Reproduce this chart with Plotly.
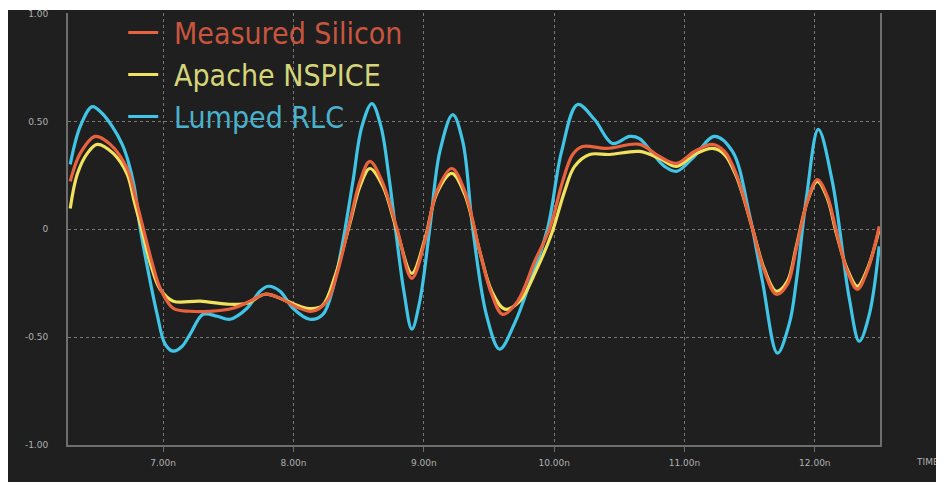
import plotly.graph_objects as go

# ---------------- data ----------------
t_lumped = [6.287, 6.364, 6.456, 6.533, 6.609, 6.686, 6.732, 6.778, 6.824, 6.885, 6.954, 7.015, 7.077, 7.146,
            7.207, 7.307, 7.414, 7.513, 7.644, 7.743, 7.805, 7.897, 7.996, 8.126, 8.226, 8.303, 8.379, 8.456,
            8.525, 8.602, 8.671, 8.732, 8.785, 8.847, 8.908, 8.969, 9.046, 9.123, 9.222, 9.299, 9.375, 9.483,
            9.582, 9.697, 9.812, 9.950, 10.057, 10.180, 10.310, 10.448, 10.579, 10.655, 10.755, 10.847, 10.939,
            11.061, 11.230, 11.368, 11.498, 11.598, 11.713, 11.805, 11.858, 11.935, 12.027, 12.134, 12.264,
            12.341, 12.418, 12.494]
v_lumped = [0.301, 0.477, 0.569, 0.537, 0.477, 0.394, 0.315, 0.199, 0.005, -0.194, -0.394, -0.532, -0.565, -0.542,
            -0.486, -0.394, -0.403, -0.417, -0.366, -0.287, -0.264, -0.287, -0.366, -0.417, -0.394, -0.273, -0.056,
            0.222, 0.477, 0.583, 0.477, 0.245, -0.009, -0.287, -0.463, -0.333, 0.005, 0.361, 0.532, 0.407, 0.005,
            -0.403, -0.556, -0.435, -0.250, 0.005, 0.361, 0.579, 0.509, 0.398, 0.431, 0.421, 0.352, 0.292, 0.269,
            0.329, 0.431, 0.361, 0.069, -0.241, -0.574, -0.435, -0.241, 0.144, 0.463, 0.222, -0.319,
            -0.519, -0.394, -0.079]

t_measured = [6.287, 6.364, 6.479, 6.594, 6.724, 6.785, 6.847, 6.916, 6.977, 7.077, 7.207, 7.360, 7.536, 7.667,
              7.782, 7.897, 8.027, 8.142, 8.257, 8.333, 8.433, 8.510, 8.586, 8.686, 8.793, 8.908, 9.008, 9.100,
              9.215, 9.314, 9.429, 9.521, 9.605, 9.720, 9.851, 9.966, 10.065, 10.142, 10.218, 10.402, 10.655,
              10.808, 10.939, 11.077, 11.215, 11.307, 11.398, 11.521, 11.613, 11.705, 11.789, 11.858, 11.943,
              12.019, 12.096, 12.165, 12.249, 12.326, 12.402, 12.494]
v_measured = [0.222, 0.352, 0.431, 0.394, 0.282, 0.153, 0.005, -0.157, -0.273, -0.366, -0.380, -0.380, -0.366, -0.333,
              -0.301, -0.319, -0.361, -0.380, -0.333, -0.208, 0.037, 0.222, 0.315, 0.213, 0.005, -0.227, -0.056, 0.176,
              0.282, 0.176, -0.102, -0.301, -0.394, -0.333, -0.148, 0.005, 0.222, 0.347, 0.384, 0.375, 0.394,
              0.338, 0.306, 0.361, 0.394, 0.361, 0.255, 0.005, -0.194, -0.301, -0.255, -0.088, 0.130,
              0.231, 0.153, -0.009, -0.194, -0.278, -0.194, 0.014]

t_apache = [6.287, 6.341, 6.418, 6.494, 6.617, 6.724, 6.778, 6.839, 6.908, 6.977, 7.077, 7.284, 7.490, 7.644,
            7.782, 7.950, 8.103, 8.218, 8.318, 8.433, 8.510, 8.586, 8.686, 8.793, 8.908, 9.008, 9.100, 9.215,
            9.314, 9.429, 9.521, 9.621, 9.736, 9.866, 9.981, 10.080, 10.157, 10.272, 10.425, 10.655, 10.808,
            10.939, 11.077, 11.215, 11.307, 11.398, 11.521, 11.613, 11.705, 11.789, 11.858, 11.943, 12.019,
            12.096, 12.165, 12.249, 12.326, 12.402, 12.494]
v_apache = [0.097, 0.255, 0.352, 0.394, 0.352, 0.255, 0.130, -0.009, -0.171, -0.278, -0.333, -0.333, -0.347, -0.343,
            -0.301, -0.333, -0.366, -0.356, -0.218, 0.028, 0.199, 0.282, 0.199, -0.005, -0.204, -0.046, 0.167, 0.259,
            0.162, -0.102, -0.287, -0.370, -0.333, -0.185, -0.019, 0.176, 0.292, 0.347, 0.347, 0.361, 0.329,
            0.292, 0.347, 0.375, 0.347, 0.245, 0.005, -0.185, -0.287, -0.241, -0.079, 0.130, 0.222,
            0.144, -0.019, -0.185, -0.264, -0.185, 0.0]

series_names = ["Measured Silicon", "Apache NSPICE", "Lumped RLC"]
x_tick_vals = [7, 8, 9, 10, 11, 12]
x_tick_text = ["7.00n", "8.00n", "9.00n", "10.00n", "11.00n", "12.00n"]
y_tick_vals = [1.0, 0.5, 0.0, -0.5, -1.0]
y_tick_text = ["1.00", "0.50", "0", "-0.50", "-1.00"]

# ---------------- style ----------------
BG = "#1f1f1f"
line_colors = {"Measured Silicon": "#e8633d", "Apache NSPICE": "#f0e25c", "Lumped RLC": "#41c5e6"}
text_colors = {"Measured Silicon": "#c9553e", "Apache NSPICE": "#d5d67a", "Lumped RLC": "#4ab2ce"}
legend_font = "Liberation Sans Narrow, DejaVu Sans Condensed, Arial Narrow, sans-serif"
tick_font = dict(family="DejaVu Sans", size=9, color="#b0b0b0")

W, H = 936, 474
L, R, T, B = 60, 64, 5, 37
PW, PH = W - L - R, H - T - B

fig = go.Figure()
data_map = {
    "Lumped RLC": (t_lumped, v_lumped, 3),
    "Apache NSPICE": (t_apache, v_apache, 2),
    "Measured Silicon": (t_measured, v_measured, 1),
}
for name in ["Lumped RLC", "Apache NSPICE", "Measured Silicon"]:
    tx, vy, rank = data_map[name]
    fig.add_trace(go.Scatter(
        x=tx, y=vy, mode="lines",
        line=dict(color=line_colors[name], width=3.2, shape="spline", smoothing=1.0),
        name="&#8201;&#8201;<span style='color:%s'>%s</span>" % (text_colors[name], name),
        legendrank=rank,
    ))

grid = "rgba(150,150,150,0.75)"
fig.update_layout(
    width=W, height=H,
    margin=dict(l=L, r=R, t=T, b=B, autoexpand=False),
    paper_bgcolor="white",
    plot_bgcolor=BG,
    showlegend=True,
    legend=dict(x=0.068, y=1.015, xanchor="left", yanchor="top",
                bgcolor="rgba(0,0,0,0)", font=dict(family=legend_font, size=30),
                tracegroupgap=0, itemwidth=30),
    shapes=[dict(type="rect", xref="paper", yref="paper",
                 x0=-L / PW, x1=(W - L) / PW, y0=-B / PH - 0.01, y1=(PH + T - 2) / PH,
                 fillcolor=BG, line=dict(width=0), layer="below")],
    annotations=[dict(text="TIME", xref="paper", yref="paper", x=(W - 3 - L) / PW, y=-0.04,
                      xanchor="right", yanchor="middle", showarrow=False, font=tick_font)],
)
fig.update_xaxes(
    range=[6.27, 12.5], tickvals=x_tick_vals, ticktext=x_tick_text,
    showgrid=True, gridcolor=grid, griddash="dot", gridwidth=1,
    showline=True, linecolor="#6e6e6e", linewidth=2, mirror=False,
    ticks="outside", ticklen=5, tickcolor="#6e6e6e", ticklabelstandoff=3,
    tickfont=tick_font, zeroline=False,
)
fig.update_yaxes(
    range=[-1.0, 1.003], tickvals=y_tick_vals, ticktext=y_tick_text,
    showgrid=True, gridcolor=grid, griddash="dot", gridwidth=1,
    showline=True, linecolor="#6e6e6e", linewidth=2, mirror=True,
    ticks="", ticklabelstandoff=16,
    tickfont=tick_font, zeroline=False,
)

fig.write_html("out.html")
